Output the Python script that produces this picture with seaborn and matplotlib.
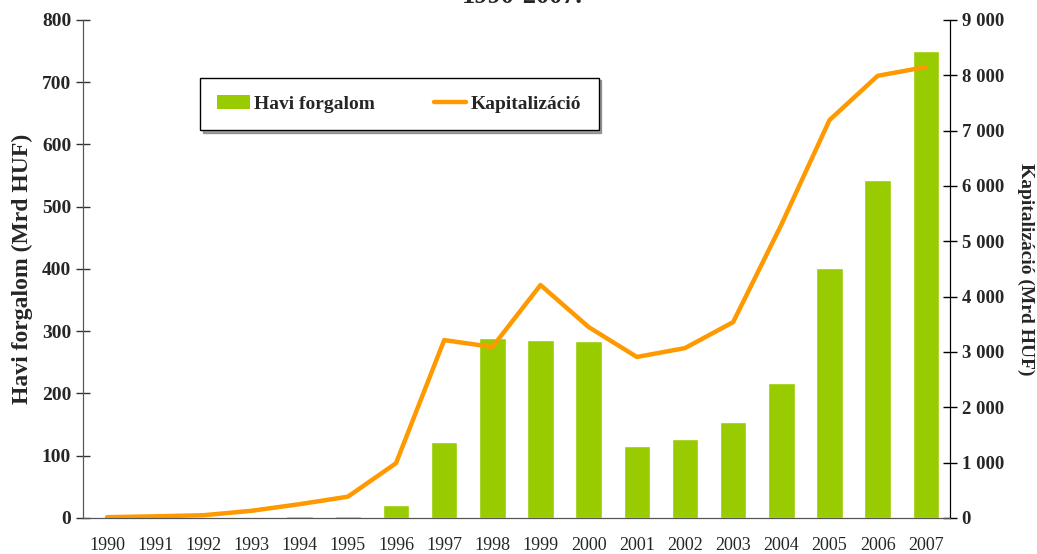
import numpy as np
import pandas as pd
import seaborn as sns
import matplotlib.pyplot as plt
from matplotlib.patches import Patch
from matplotlib.lines import Line2D
from matplotlib.ticker import FuncFormatter

years = [str(y) for y in range(1990, 2008)]
havi_forgalom = [0.5, 0.5, 1, 1.5, 3, 3, 21, 122, 289, 286, 284, 116, 127, 154, 217, 402, 543, 750]
kapitalizacio = [15, 30, 50, 130, 250, 385, 990, 3215, 3090, 4210, 3450, 2910, 3070, 3540, 5300, 7190, 7990, 8150]

bar_color = "#99CC00"
line_color = "#FF9900"

sns.set_style("white")
plt.rcParams['font.family'] = ['Liberation Serif', 'DejaVu Serif']

df = pd.DataFrame({"ev": years, "forgalom": havi_forgalom, "kap": kapitalizacio})

fig = plt.figure(figsize=(10.37, 5.54), dpi=100)
ax = fig.add_axes([0.080, 0.065, 0.836, 0.899])

sns.barplot(data=df, x="ev", y="forgalom", color=bar_color, width=0.55,
            saturation=1, ax=ax)

ax2 = ax.twinx()
sns.lineplot(x=np.arange(len(years)), y=df["kap"], color=line_color,
             linewidth=3.2, ax=ax2)

ax.set_xlim(-0.5, len(years) - 0.5)
ax.set_ylim(0, 800)
ax2.set_ylim(0, 9000)

# ticks at category borders, labels at centers
ax.set_xticks(np.arange(-0.5, len(years), 1))
ax.set_xticklabels([])
ax.set_xticks(np.arange(len(years)), minor=True)
ax.set_xticklabels(years, minor=True, fontsize=13)
ax.tick_params(axis="x", which="major", direction="inout", length=10, width=1, color="#333333")
ax.tick_params(axis="x", which="minor", length=0, pad=14)

ax.set_yticks(range(0, 801, 100))
ax.tick_params(axis="y", direction="inout", length=10, width=1, labelsize=14, color="#333333")
for t in ax.get_yticklabels():
    t.set_fontweight("bold")

ax2.set_yticks(range(0, 9001, 1000))
ax2.yaxis.set_major_formatter(FuncFormatter(lambda v, p: f"{v:,.0f}".replace(",", " ")))
ax2.tick_params(axis="y", direction="inout", length=10, width=1, labelsize=13.5, color="black")
for t in ax2.get_yticklabels():
    t.set_fontweight("bold")

ax.set_xlabel("")
ax.set_ylabel("Havi forgalom (Mrd HUF)", fontsize=17, fontweight="bold", labelpad=6)
ax2.set_ylabel("Kapitalizáció (Mrd HUF)", fontsize=14, fontweight="bold",
               rotation=270, labelpad=22)

for a in (ax, ax2):
    a.spines["top"].set_visible(False)
    a.spines["left"].set_color("#555555")
    a.spines["bottom"].set_color("#555555")
    a.spines["right"].set_color("black")

handles = [Patch(facecolor=bar_color, edgecolor="none"),
           Line2D([0], [0], color=line_color, linewidth=3.2)]
leg = ax2.legend(handles, ["Havi forgalom", "Kapitalizáció"], ncol=2,
                 loc="upper left", bbox_to_anchor=(0.135, 0.884),
                 borderaxespad=0,
                 frameon=True, fancybox=False, shadow=True,
                 prop={"weight": "bold", "size": 14},
                 handlelength=1.65, handletextpad=0.25, columnspacing=3.0,
                 borderpad=0.9)
leg.get_frame().set_edgecolor("black")
leg.get_frame().set_linewidth(1)

fig.text(0.504, 0.995, "1990-2007.", ha="center", va="baseline",
         fontsize=19, fontweight="bold")

fig.savefig("out.png", dpi=100)
